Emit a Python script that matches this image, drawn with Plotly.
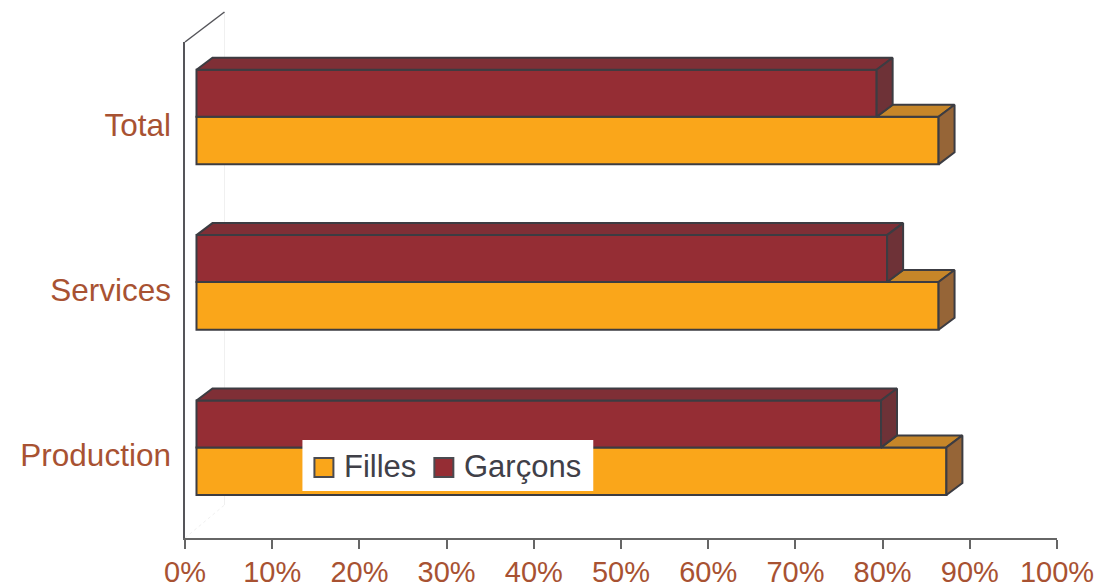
import plotly.graph_objects as go

categories = ["Production", "Services", "Total"]
filles = [86.0, 85.1, 85.1]
garcons = [78.5, 79.2, 78.0]
percent_ticks = list(range(0, 101, 10))
percent_labels = [f"{v}%" for v in percent_ticks]

# the page body adds 8px around the figure
PAGE = 8
# plot area in window pixels, used to turn the 3D depth into axis units
LEFT, RIGHT, TOP, BOTTOM = 184.5, 1057, 42, 538
px_x = 100 / (RIGHT - LEFT)
px_y = 3 / (BOTTOM - TOP)

BAR_START = 11.5 * px_x
DEPTH_X = 16 * px_x
DEPTH_Y = 12 * px_y
F_LOW, F_HIGH = -0.24, 0.048
G_LOW, G_HIGH = 0.048, 0.332

EDGE = "#3c3c42"
TEXT = "#a85232"
FILLES_COLOR = "#faa61a"
GARCONS_COLOR = "#952d34"


def paper_x(px):
    return (px - LEFT) / (RIGHT - LEFT)


def paper_y(px):
    return (BOTTOM - px) / (BOTTOM - TOP)


def poly_trace(xs, ys, color):
    return go.Scatter(x=xs, y=ys, mode="lines", fill="toself", fillcolor=color,
                      line=dict(color=EDGE, width=2), showlegend=False, hoverinfo="skip",
                      cliponaxis=False)


def top_face(starts, ends, level):
    xs, ys = [], []
    for i, (a, b) in enumerate(zip(starts, ends)):
        xs += [a, b, b + DEPTH_X, a + DEPTH_X, a, None]
        ys += [i + level] * 2 + [i + level + DEPTH_Y] * 2 + [i + level, None]
    return xs, ys


def side_face(ends, low, high):
    xs, ys = [], []
    for i, b in enumerate(ends):
        xs += [b, b, b + DEPTH_X, b + DEPTH_X, b, None]
        ys += [i + low, i + high, i + high + DEPTH_Y, i + low + DEPTH_Y, i + low, None]
    return xs, ys


f_ends = [BAR_START + v for v in filles]
g_ends = [BAR_START + v for v in garcons]
positions = list(range(len(categories)))

fig = go.Figure()

fig.add_trace(go.Bar(y=positions, x=filles, base=BAR_START, orientation="h", name="Filles",
                     offset=F_LOW, width=F_HIGH - F_LOW, showlegend=False,
                     marker=dict(color=FILLES_COLOR, line=dict(color=EDGE, width=2))))
fig.add_trace(go.Bar(y=positions, x=garcons, base=BAR_START, orientation="h", name="Garçons",
                     offset=G_LOW, width=G_HIGH - G_LOW, showlegend=False,
                     marker=dict(color=GARCONS_COLOR, line=dict(color=EDGE, width=2))))

# 3D faces, girls first so that the boys' side sits on top
fig.add_trace(poly_trace(*top_face(g_ends, f_ends, F_HIGH), "#c68629"))
fig.add_trace(poly_trace(*side_face(f_ends, F_LOW, F_HIGH), "#966537"))
fig.add_trace(poly_trace(*top_face([BAR_START] * 3, g_ends, G_HIGH), "#7f2f36"))
fig.add_trace(poly_trace(*side_face(g_ends, G_LOW, G_HIGH), "#6e3237"))

# back wall of the 3D box
wall_x = paper_x(224)
fig.add_shape(type="line", xref="paper", yref="paper", x0=0, y0=1, x1=wall_x, y1=paper_y(12),
              line=dict(color="#55555a", width=1.5))
fig.add_shape(type="line", xref="paper", yref="paper", x0=wall_x, y0=paper_y(12), x1=wall_x, y1=paper_y(505),
              line=dict(color="#f0f0f0", width=1), layer="below")
fig.add_shape(type="line", xref="paper", yref="paper", x0=0, y0=0, x1=wall_x, y1=paper_y(505),
              line=dict(color="#f0f0f0", width=1, dash="dot"), layer="below")

# legend box: plotly's own swatches are fixed at 12px, the chart has 20px ones
fig.add_shape(type="rect", xref="paper", yref="paper", x0=paper_x(302), x1=paper_x(593),
              y0=paper_y(491), y1=paper_y(440), fillcolor="white", line=dict(width=0))
for name, color, swatch_x, text_x in [("Filles", FILLES_COLOR, 314, 342), ("Garçons", GARCONS_COLOR, 434, 462)]:
    fig.add_shape(type="rect", xref="paper", yref="paper", x0=paper_x(swatch_x), x1=paper_x(swatch_x + 19),
                  y0=paper_y(477), y1=paper_y(458), fillcolor=color, line=dict(color="#4a4a50", width=2))
    fig.add_annotation(xref="paper", yref="paper", x=paper_x(text_x), y=paper_y(466), text=name,
                       xanchor="left", yanchor="middle", showarrow=False,
                       font=dict(size=31, color="#404048"))

fig.update_layout(
    width=1102 - PAGE, height=587 - PAGE,
    margin=dict(l=LEFT - PAGE, r=1102 - RIGHT, t=TOP - PAGE, b=587 - BOTTOM, pad=0),
    paper_bgcolor="white", plot_bgcolor="white",
    font=dict(family="Liberation Sans", size=29, color=TEXT),
    barmode="overlay",
    showlegend=False,
    xaxis=dict(range=[0, 100], tickvals=percent_ticks, ticktext=percent_labels, ticks="outside", ticklen=9,
               tickcolor="#666666", tickwidth=1.5, showline=True, linecolor="#666666", linewidth=1.5,
               showgrid=False, zeroline=False, automargin=False, ticklabelstandoff=-2),
    yaxis=dict(range=[-0.5, 2.5], tickvals=positions, ticktext=categories, ticks="", showline=True,
               linecolor="#55555a", linewidth=1.5, showgrid=False, zeroline=False, automargin=False,
               tickfont=dict(size=31.5), ticklabelstandoff=6),
)

fig.write_html("out.html")
